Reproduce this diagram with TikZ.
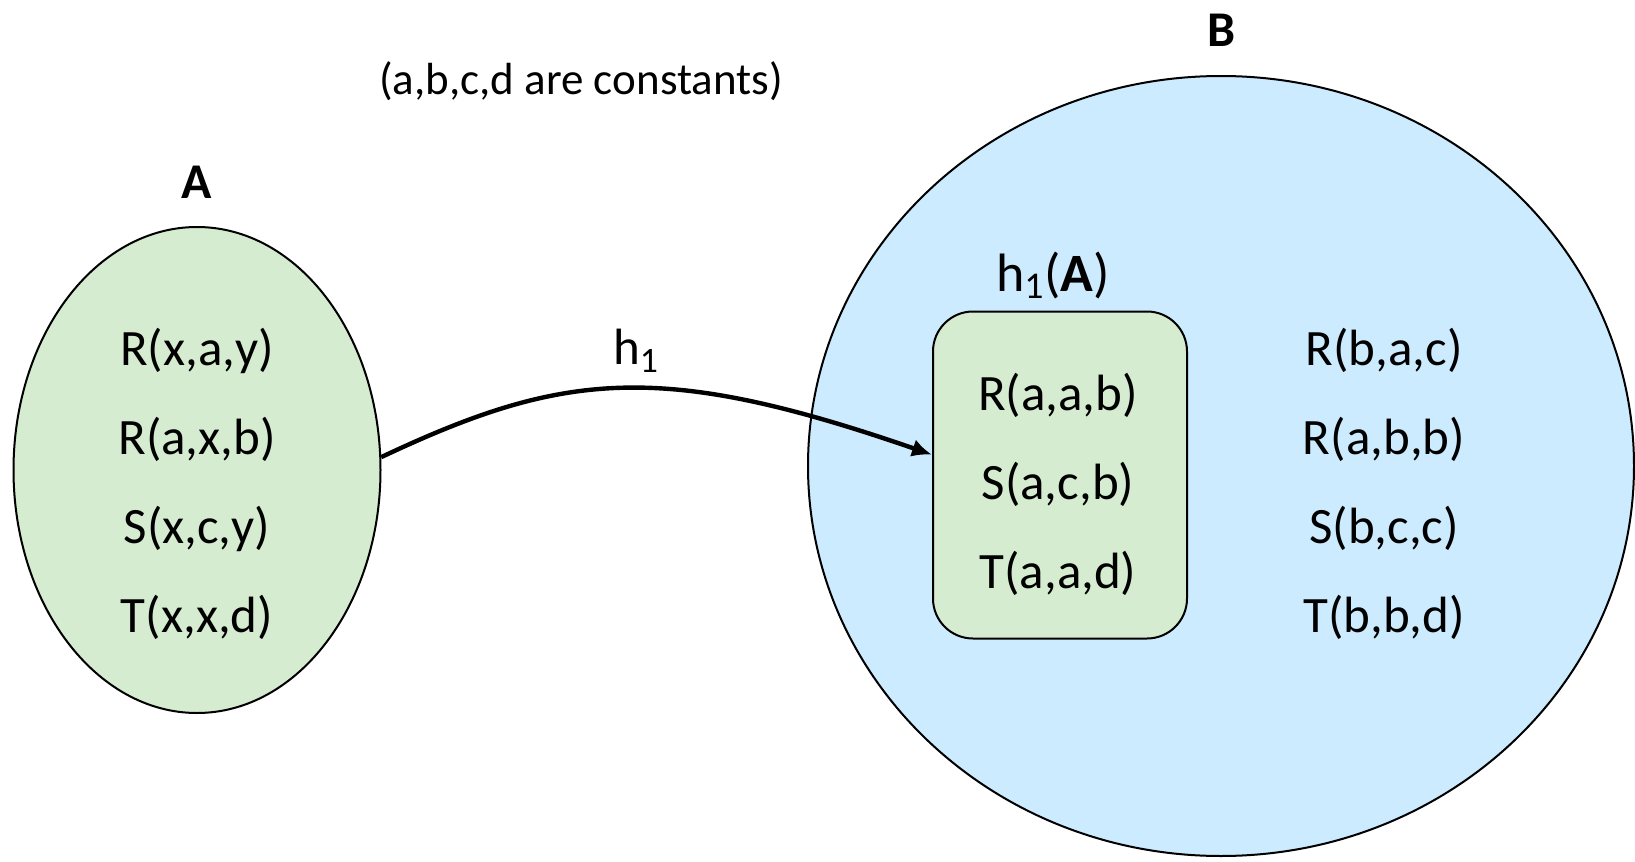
\documentclass[tikz,border=0pt]{standalone}
\usepackage{fontspec}
\setmainfont{Carlito}
\usepackage{tikz}
\usetikzlibrary{arrows.meta, positioning, shapes.geometric}

\definecolor{setgreen}{HTML}{D5ECD1}
\definecolor{setblue}{HTML}{CCEBFF}

\begin{document}
\begin{tikzpicture}[
  x=0.5pt, y=-0.5pt,
  every node/.style={font=\fontsize{25.5}{44.5}\selectfont},
  blob/.style={ellipse, draw=black, line width=1pt, inner sep=0pt},
  imgbox/.style={draw=black, line width=1pt, fill=setgreen, rounded corners=20pt,
                 minimum width=127pt, minimum height=163.5pt, inner sep=0pt},
  facts/.style={align=center, inner sep=0pt},
  title/.style={font=\fontsize{25}{28}\selectfont\bfseries, inner sep=0pt},
  arr/.style={-{Latex[length=10pt, width=9pt]}, line width=2.2pt, draw=black},
]
  \useasboundingbox (0,0) rectangle (1635,862);

  % the two sets
  \node[blob, fill=setgreen, minimum width=183.5pt, minimum height=243pt] (setA) at (197,470) {};
  \node[blob, fill=setblue, minimum width=413pt, minimum height=390pt] (setB) at (1221,466) {};
  \node[imgbox] (img) at (1060,475) {};

  % labels
  \node[title] (labA) at (197,182) {A};
  \node[title] (labB) at (1222,30) {B};
  \node[inner sep=0pt, font=\fontsize{22.5}{27}\selectfont] (note) at (581,81) {(a,b,c,d are constants)};
  \node[inner sep=0pt, font=\fontsize{27}{30}\selectfont] (labImg) at (1053,275) {h\textsubscript{1}(\textbf{A})};
  \node[inner sep=0pt] (labMap) at (636,351) {h\textsubscript{1}};

  % facts
  \node[facts] (factsA) at (197,484) {R(x,a,y)\\R(a,x,b)\\S(x,c,y)\\T(x,x,d)};
  \node[facts] (factsImg) at (1058,484) {R(a,a,b)\\S(a,c,b)\\T(a,a,d)};
  \node[facts] (factsB) at (1384,484) {R(b,a,c)\\R(a,b,b)\\S(b,c,c)\\T(b,b,d)};

  % the homomorphism
  \draw[arr] (setA.4) .. controls (564,371) and (661,361) .. (img.171);
\end{tikzpicture}
\end{document}
